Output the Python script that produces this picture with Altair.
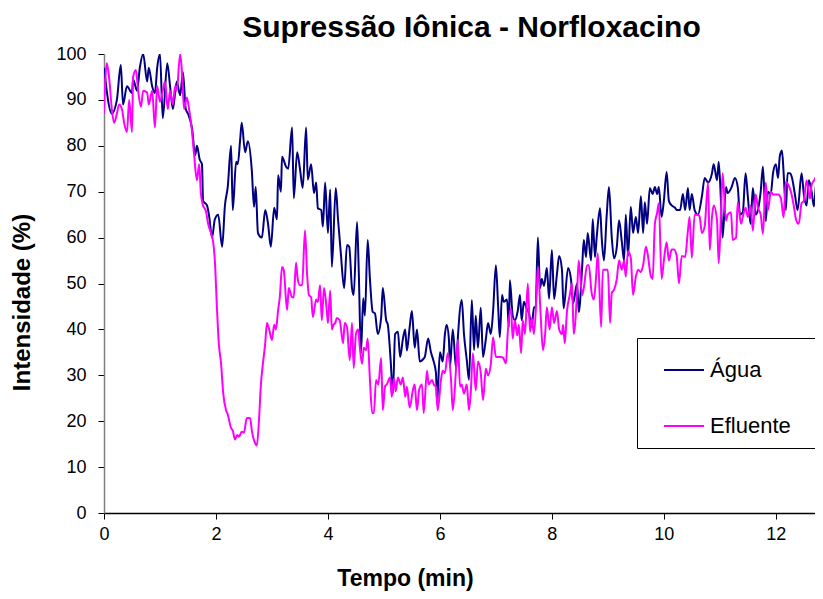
import altair as alt
import pandas as pd

# Água series (time in min, intensity in %)
agua_t = [0.00,0.14,0.23,0.30,0.34,0.41,0.50,0.52,0.59,0.64,0.70,0.77,0.80,0.86,0.91,0.95,1.00,1.05,1.13,1.18,
          1.23,1.30,1.36,1.41,1.46,1.50,1.57,1.63,1.66,1.71,1.75,1.77,1.84,1.88,1.93,1.98,2.04,2.11,2.16,2.21,
          2.27,2.30,2.36,2.39,2.43,2.46,2.52,2.57,2.64,2.68,2.71,2.75,2.82,2.88,2.93,2.98,3.04,3.09,3.11,3.16,
          3.18,3.25,3.29,3.36,3.39,3.45,3.50,3.55,3.61,3.64,3.70,3.75,3.79,3.82,3.88,3.91,3.95,4.00,4.04,4.07,
          4.14,4.18,4.23,4.29,4.34,4.38,4.43,4.46,4.52,4.55,4.59,4.63,4.66,4.71,4.75,4.80,4.84,4.89,4.95,4.98,
          5.04,5.07,5.12,5.16,5.20,5.25,5.29,5.34,5.38,5.41,5.46,5.50,5.55,5.59,5.64,5.70,5.73,5.79,5.84,5.88,
          5.93,5.95,6.00,6.05,6.09,6.12,6.16,6.18,6.23,6.29,6.32,6.39,6.43,6.48,6.52,6.57,6.61,6.64,6.68,6.73,
          6.77,6.82,6.86,6.91,6.95,7.00,7.04,7.07,7.11,7.14,7.20,7.23,7.25,7.30,7.34,7.39,7.43,7.46,7.50,7.55,
          7.59,7.64,7.68,7.71,7.75,7.79,7.82,7.86,7.91,7.95,8.00,8.04,8.09,8.13,8.18,8.21,8.29,8.34,8.38,8.45,
          8.48,8.54,8.57,8.61,8.64,8.70,8.73,8.77,8.80,8.86,8.89,8.93,8.98,9.02,9.07,9.11,9.16,9.20,9.25,9.29,
          9.32,9.36,9.41,9.45,9.50,9.54,9.59,9.63,9.66,9.70,9.75,9.80,9.84,9.88,9.91,9.96,10.00,10.05,10.09,10.14,
          10.20,10.23,10.29,10.34,10.38,10.43,10.46,10.50,10.55,10.61,10.68,10.73,10.79,10.86,10.89,10.95,10.98,11.02,11.05,11.11,
          11.14,11.21,11.27,11.32,11.36,11.41,11.46,11.50,11.55,11.59,11.64,11.68,11.73,11.77,11.82,11.86,11.91,11.95,12.00,12.04,
          12.07,12.11,12.14,12.18,12.21,12.25,12.29,12.34,12.39,12.46,12.50,12.55,12.59,12.64,12.68,12.73,12.79,12.82]
agua_v = [97,87,90,97.6,89,93,91.5,94.5,92,97,100,94,97,93,91.5,97,100,86,98,93,
          88,94,91,96,88,87,84,78,80,77,76,68,67,64.5,60,64,65,58,67,71,
          80,66,76.5,76,81,85,78.6,81,74.7,66.7,71,61,60,66,63,58,66.5,64,73.6,70,
          77.6,75.5,75,84,68.6,78.6,75,70.8,84,72.6,76,69.7,72,66.4,66,62.4,72,61,70.5,53.6,
          70.8,64,56.6,49,58.4,58,49,47.5,63.4,53,34.8,46.8,43,59.5,51,43.8,43.5,39,42.5,49,
          42,41,33.3,26,39,39.5,34,38,40,35.4,40.5,44,36,40,33,33.5,34,38,35,33.4,
          30.5,24,35,33,39,41,38,31.8,40,31.4,38,46.4,39,33.3,29,46.4,35.5,43,36,44.7,
          34,37.8,41.4,39,44,54,45,38.3,47.5,46,46.5,40.4,50.7,43,42,44,47.5,42,46,44.5,
          43.6,40.5,44.8,44.8,60,49,51,49.5,53.4,46.7,57.3,46.6,52,56,53,44.6,53.4,51,45.7,50,
          43.8,53.4,59.5,55.8,61,55,64,55.8,60,66.4,60,55,65,71,60,55.5,58,63.8,59,55,
          65,56,66.7,61,64.5,61,69,61,67.7,63,70.8,69.5,71,69.5,71,64.5,68,74.3,68,67,
          66.5,66,66,69.5,66,70.8,66,69.5,66,65,69,73,72,74,76,72.5,76.5,68,60,71,
          69.7,71,73,71,65,65.5,74,69,63,70.8,65,66,70,75.5,63.6,70,69.5,74,76,73,
          77.6,79,74,66,74,74,73,69.5,66,74,69.5,67,72.5,70,66.8,72.6,69,70.5]

# Efluente series
eflu_t = [0.00,0.05,0.09,0.14,0.18,0.23,0.27,0.32,0.36,0.41,0.45,0.50,0.52,0.57,0.61,0.66,0.70,0.77,0.80,0.86,
          0.91,0.95,1.00,1.05,1.09,1.14,1.18,1.23,1.27,1.30,1.36,1.39,1.43,1.48,1.52,1.57,1.61,1.66,1.70,1.73,
          1.77,1.82,1.86,1.91,1.95,1.98,2.02,2.05,2.09,2.13,2.18,2.21,2.27,2.30,2.34,2.38,2.41,2.46,2.50,2.55,
          2.61,2.64,2.70,2.73,2.77,2.80,2.84,2.88,2.91,2.95,3.00,3.04,3.07,3.11,3.14,3.18,3.21,3.27,3.30,3.36,
          3.39,3.43,3.46,3.50,3.54,3.59,3.63,3.66,3.70,3.73,3.79,3.82,3.86,3.89,3.93,3.98,4.00,4.04,4.07,4.10,
          4.13,4.16,4.21,4.27,4.30,4.34,4.39,4.43,4.46,4.50,4.54,4.57,4.61,4.64,4.68,4.71,4.75,4.79,4.82,4.86,
          4.90,4.95,4.98,5.02,5.05,5.11,5.14,5.18,5.21,5.25,5.30,5.34,5.38,5.41,5.46,5.52,5.55,5.59,5.63,5.68,
          5.71,5.77,5.80,5.86,5.89,5.93,5.96,6.02,6.05,6.09,6.14,6.20,6.23,6.29,6.32,6.36,6.39,6.43,6.48,6.52,
          6.55,6.59,6.64,6.68,6.73,6.77,6.82,6.86,6.91,6.95,7.00,7.04,7.09,7.13,7.18,7.21,7.27,7.30,7.34,7.38,
          7.41,7.45,7.48,7.52,7.57,7.61,7.64,7.68,7.73,7.75,7.80,7.84,7.88,7.91,7.96,8.00,8.04,8.09,8.13,8.18,
          8.20,8.23,8.27,8.32,8.36,8.39,8.45,8.48,8.54,8.57,8.63,8.66,8.71,8.75,8.79,8.82,8.88,8.91,8.95,9.00,
          9.04,9.07,9.11,9.16,9.20,9.25,9.29,9.32,9.36,9.41,9.45,9.50,9.54,9.59,9.63,9.68,9.71,9.77,9.80,9.84,
          9.88,9.91,9.96,10.00,10.05,10.09,10.14,10.18,10.23,10.27,10.32,10.38,10.43,10.46,10.50,10.55,10.61,10.64,10.68,10.73,
          10.79,10.82,10.86,10.89,10.95,10.98,11.02,11.05,11.11,11.14,11.20,11.23,11.29,11.32,11.38,11.41,11.46,11.50,11.55,11.59,
          11.64,11.68,11.73,11.77,11.82,11.86,11.91,11.95,12.00,12.04,12.09,12.14,12.18,12.21,12.27,12.32,12.36,12.41,12.46,12.50,
          12.55,12.61,12.64,12.70,12.75,12.79,12.82]
eflu_v = [87,98,95,88,85,87,89,88,85,83,90,83,95,96.5,92,88.5,92,91.6,89,92,
          84,93,89.6,92,94,88,92,89,93,92,100,96.5,88,90.5,88,83.4,78,72.5,76,69.7,
          67,65.8,63,61,59,55,44,37,32.7,26,22.4,21.5,18.5,18,16,17,16.6,17.7,17.5,20.7,
          20.7,18,15.2,14.7,20.5,27.5,32.7,37,41.4,40,37.7,41,40,44.2,47,53.6,53,44.2,49,47,
          47,54.5,51,49.6,49.6,61.6,51.5,47.5,47,42.7,46.5,46,49.6,42,49,44,41.4,48.4,40,41,
          41.4,42.5,42,37,41.4,40.5,33.3,41.4,31.6,39,40,36,32.5,36,35.5,38,29,21.8,21.8,29,
          28,33.8,22.4,27.6,28,29.5,25.3,29.3,26.5,29.5,28,29.5,25.3,27.5,23,26.9,28,22.4,26.9,28,
          21.8,31,28,29,28,27.5,22.4,29,31,30.5,34.8,28.8,22.4,31.8,37.7,27.5,28,26,28,22.4,
          26,34.8,26.7,33,30.5,24.6,31.4,30,32.5,38.3,34,34,34,33.8,32.6,39,44.6,38,42,38.7,
          41,34.8,42,39,50,39.5,42.5,39,48.6,53.6,43,35.5,39,44.8,40,44.8,41.4,44,40,39,
          41,37,44,47.5,50,39,48,55,47.5,49,54,54,48,46.5,51.5,56.6,40.5,53,53,53,
          41.4,48,48.6,51,55,53,55,51.5,57,55.5,47.5,51.5,53,52.5,54,58,56.5,51.5,51,63,
          65.4,67.5,51,55,59,55,57.4,57.4,56,50,56,55.8,61.5,64.5,55.6,65,65,64.5,61,62.5,
          72,57.3,64.5,67,63.7,54.4,65,74,63.7,65,65.5,59.5,60,67.7,63,64.5,66.5,64.5,67,61.5,
          69.4,66.5,65,60.8,72,66,70,69.4,69.4,69.4,68.6,64.4,72.2,71.8,70,67,64,63,67.5,68,
          72.5,68.5,71.5,72.8,74.3,75,75]

series_names = ["Água", "Efluente"]
series_colors = ["#000080", "#FF00FF"]

df = pd.concat([
    pd.DataFrame({"t": agua_t, "v": agua_v, "s": series_names[0]}),
    pd.DataFrame({"t": eflu_t, "v": eflu_v, "s": series_names[1]}),
])

FONT = "Liberation Sans"

chart = alt.Chart(df).mark_line(strokeWidth=2, clip=True, interpolate="monotone").encode(
    x=alt.X("t:Q",
            scale=alt.Scale(domain=[0, 12.7], nice=False, zero=False),
            axis=alt.Axis(values=[0, 2, 4, 6, 8, 10, 12], title="Tempo (min)",
                          titleX=301, titleY=65, titleBaseline="middle", titleAlign="center",
                          titleFontSize=23,
                          labelPadding=6, tickSize=6, domainColor="black", tickColor="black",
                          labelFlush=False, labelOverlap=False)),
    y=alt.Y("v:Q",
            scale=alt.Scale(domain=[0, 100], nice=False),
            axis=alt.Axis(values=list(range(0, 101, 10)), title="Intensidade (%)",
                          titleX=-82, titleY=248, titleAngle=-90, titleBaseline="middle",
                          titleAlign="center", titleFontSize=24, labelPadding=12, tickSize=6,
                          domainColor="#808080", tickColor="black")),
    color=alt.Color("s:N", scale=alt.Scale(domain=series_names, range=series_colors),
                    legend=alt.Legend(title=None, orient="none", legendX=533, legendY=284,
                                      strokeColor="black", fillColor="white", padding=11,
                                      symbolType="stroke", symbolSize=1600, symbolStrokeWidth=2,
                                      symbolOffset=15,
                                      labelFontSize=22, labelFont=FONT, labelColor="black",
                                      labelExpr="datum.label + '\u2800'",
                                      rowPadding=24, labelOffset=5)),
).properties(
    width=711, height=459,
    autosize=alt.AutoSizeParams(type="none"),
    padding={"left": 96, "top": 46, "right": 0, "bottom": 78},
    title=alt.TitleParams("Supressão Iônica - Norfloxacino", fontSize=30, font=FONT,
                          fontWeight="bold", anchor="middle", dx=12, offset=2, color="black"),
).configure_view(stroke=None).configure_axis(
    grid=False, labelFont=FONT, labelFontSize=18, labelColor="black",
    titleFont=FONT, titleFontWeight="bold", titleColor="black",
    domainWidth=1.5,
)

chart.save("out.html", embed_options={"renderer": "svg", "actions": False})
